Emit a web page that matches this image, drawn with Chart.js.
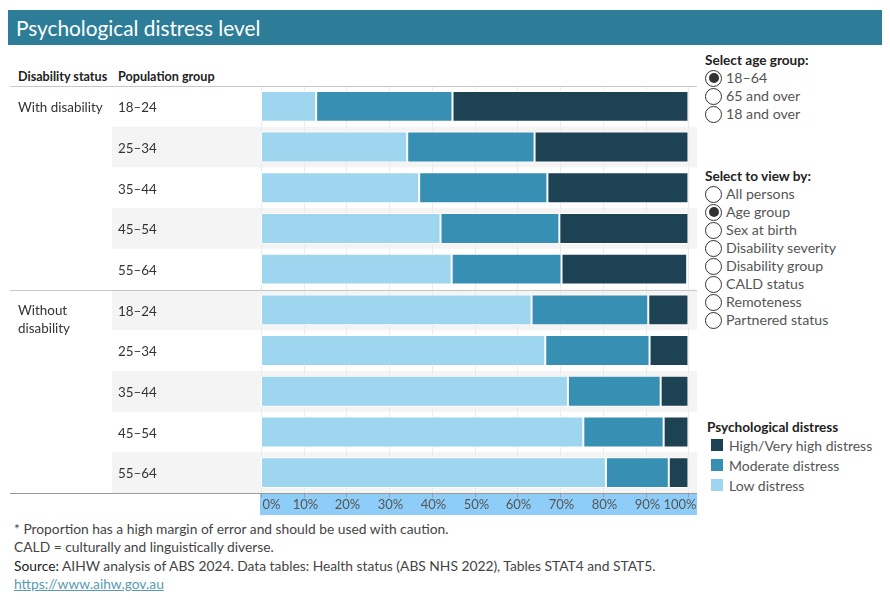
<!DOCTYPE html>
<html><head><meta charset="utf-8">
<script src="https://cdn.jsdelivr.net/npm/chart.js@4"></script>
<style>
body{margin:0;width:890px;height:600px;background:#fff;font-family:Lato,"Open Sans",sans-serif;color:#333;position:relative;overflow:hidden}
.title{position:absolute;left:8px;top:10px;width:874px;height:35px;background:#2e7d98;color:#fff;font-size:20.8px;line-height:36px;padding-left:8px;box-sizing:border-box}
.hdr{position:absolute;top:69px;font-size:12.6px;font-weight:bold;color:#222}
#wrap{position:absolute;left:10px;top:86px;width:687px;height:429px}
.panel{position:absolute;left:705px;font-size:14.2px;color:#555}
.panel .h{font-weight:bold;color:#222;margin-bottom:1px;font-size:13.6px}
.r{height:18px;line-height:18px;display:flex;align-items:center}
.c{width:17px;height:17px;border:1px solid #333;border-radius:50%;box-sizing:border-box;margin-right:4px;position:relative;background:#fff;flex:none}
.c.on::after{content:"";position:absolute;left:2.5px;top:2.5px;width:10px;height:10px;border-radius:50%;background:#333}
.lg{position:absolute;left:707px;top:419px;font-size:14px;color:#555}
.lg .h{font-weight:bold;color:#222;margin-bottom:0px;font-size:13.6px}
.li{height:20px;display:flex;align-items:center;padding-left:4px}
.sw{width:12px;height:12px;margin-right:6px}
.foot{position:absolute;left:14px;top:520px;font-size:13.8px;color:#444;line-height:18.3px}
.foot a{color:#5a9ab0;text-decoration:underline}
</style></head><body>
<div class="title">Psychological distress level</div>
<div class="hdr" style="left:18px">Disability status</div>
<div class="hdr" style="left:118px">Population group</div>
<div id="wrap"><canvas id="c"></canvas></div>

<div class="panel" style="top:52px">
<div class="h">Select age group:</div>
<div class="r"><span class="c on"></span>18–64</div>
<div class="r"><span class="c"></span>65 and over</div>
<div class="r"><span class="c"></span>18 and over</div>
</div>
<div class="panel" style="top:168px">
<div class="h">Select to view by:</div>
<div class="r"><span class="c"></span>All persons</div>
<div class="r"><span class="c on"></span>Age group</div>
<div class="r"><span class="c"></span>Sex at birth</div>
<div class="r"><span class="c"></span>Disability severity</div>
<div class="r"><span class="c"></span>Disability group</div>
<div class="r"><span class="c"></span>CALD status</div>
<div class="r"><span class="c"></span>Remoteness</div>
<div class="r"><span class="c"></span>Partnered status</div>
</div>
<div class="lg">
<div class="h">Psychological distress</div>
<div class="li"><span class="sw" style="background:#1c4254"></span>High/Very high distress</div>
<div class="li"><span class="sw" style="background:#3790b4"></span>Moderate distress</div>
<div class="li"><span class="sw" style="background:#9ed6f0"></span>Low distress</div>
</div>
<div class="foot">
* Proportion has a high margin of error and should be used with caution.<br>
CALD = culturally and linguistically diverse.<br>
<span style="color:#222">Source:</span> AIHW analysis of ABS 2024. Data tables: Health status (ABS NHS 2022), Tables STAT4 and STAT5.<br>
<a>https://www.aihw.gov.au</a>
</div>

<script>
const groups = ["With disability", "Without disability"];
const ageGroups = ["18–24", "25–34", "35–44", "45–54", "55–64"];
const categories = ["18–24", "25–34", "35–44", "45–54", "55–64", "18–24 ", "25–34 ", "35–44 ", "45–54 ", "55–64 "];
const lowDistress      = [12.9, 34.2, 37.0, 42.0, 44.6, 63.3, 66.5, 71.8, 75.4, 80.7];
const moderateDistress = [31.9, 29.8, 30.0, 27.8, 25.7, 27.3, 24.4, 21.7, 18.8, 14.7];
const highDistress     = [55.2, 36.0, 33.0, 30.2, 29.4,  9.4,  9.1,  6.5,  5.8,  4.6];
const xTicks = [0, 10, 20, 30, 40, 50, 60, 70, 80, 90, 100];

const FONT = 'Lato, "Open Sans", sans-serif';

const decor = {
  id: 'decor',
  beforeDatasetsDraw(chart) {
    const ctx = chart.ctx, y = chart.scales.y, ca = chart.chartArea;
    const step = y.getPixelForValue(1) - y.getPixelForValue(0);
    ctx.save();
    categories.forEach((c, i) => {
      if (i % 2 === 1) {
        const cy = y.getPixelForValue(i);
        ctx.fillStyle = '#f4f4f4';
        ctx.fillRect(102, cy - step / 2, ca.right - 102, step);
      }
    });
    const x = chart.scales.x;
    ctx.strokeStyle = '#ebebeb';
    ctx.lineWidth = 1;
    xTicks.forEach(v => {
      const px = Math.round(x.getPixelForValue(v)) + 0.5;
      ctx.beginPath(); ctx.moveTo(px, ca.top); ctx.lineTo(px, ca.bottom); ctx.stroke();
    });
    ctx.restore();
  },
  afterDatasetsDraw(chart) {
    const ctx = chart.ctx, y = chart.scales.y, x = chart.scales.x, ca = chart.chartArea;
    const step = y.getPixelForValue(1) - y.getPixelForValue(0);
    ctx.save();
    ctx.strokeStyle = '#c8c8c8';
    ctx.lineWidth = 1;
    const lines = [ca.top, y.getPixelForValue(5) - step / 2];
    lines.forEach(ly => {
      const py = Math.round(ly) + 0.5;
      ctx.beginPath(); ctx.moveTo(0, py); ctx.lineTo(ca.right, py); ctx.stroke();
    });
    ctx.fillStyle = '#8fcdf9';
    ctx.fillRect(ca.left - 1, ca.bottom, ca.right - ca.left + 1, chart.height - ca.bottom);
    ctx.strokeStyle = '#999';
    const by = Math.round(ca.bottom) + 0.5;
    ctx.beginPath(); ctx.moveTo(0, by); ctx.lineTo(ca.right, by); ctx.stroke();
    xTicks.forEach(v => {
      const px = Math.round(x.getPixelForValue(v)) + 0.5;
      ctx.beginPath(); ctx.moveTo(px, by); ctx.lineTo(px, by + 4); ctx.stroke();
      ctx.fillStyle = '#555';
      ctx.font = '13px ' + FONT;
      ctx.textBaseline = 'middle';
      ctx.textAlign = v === 0 ? 'left' : (v === 100 ? 'right' : 'center');
      const tx = v === 0 ? px + 1 : (v === 100 ? px + 8 : px + 1);
      ctx.fillText(v + '%', tx, ca.bottom + 12);
    });
    ctx.fillStyle = '#333';
    ctx.font = '13.4px ' + FONT;
    ctx.textAlign = 'left';
    ctx.textBaseline = 'middle';
    categories.forEach((c, i) => {
      ctx.fillText(ageGroups[i % 5], 108, y.getPixelForValue(i) + 1.5);
    });
    ctx.fillText(groups[0], 8, y.getPixelForValue(0) + 1.5);
    ctx.fillText('Without', 8, y.getPixelForValue(5) + 1);
    ctx.fillText('disability', 8, y.getPixelForValue(5) + 19);
    ctx.restore();
  }
};

new Chart(document.getElementById('c'), {
  type: 'bar',
  data: {
    labels: categories,
    datasets: [
      { label: 'Low distress', data: lowDistress, backgroundColor: '#9ed6f0' },
      { label: 'Moderate distress', data: moderateDistress, backgroundColor: '#3790b4' },
      { label: 'High/Very high distress', data: highDistress, backgroundColor: '#1c4254' }
    ].map(d => Object.assign(d, { borderColor: '#fff', borderWidth: 1, borderSkipped: false, barPercentage: 0.76, categoryPercentage: 1 }))
  },
  options: {
    indexAxis: 'y',
    responsive: true,
    maintainAspectRatio: false,
    animation: false,
    layout: { padding: 0 },
    plugins: { legend: { display: false }, tooltip: { enabled: false } },
    scales: {
      x: {
        stacked: true, min: 0, max: 102,
        grid: { display: false }, border: { display: false },
        ticks: { display: false, stepSize: 10 },
        afterFit(s) { s.height = 22; }
      },
      y: {
        stacked: true,
        grid: { display: false }, border: { display: false },
        ticks: { display: false },
        afterFit(s) { s.width = 251; }
      }
    }
  },
  plugins: [decor]
});
</script>
</body></html>
